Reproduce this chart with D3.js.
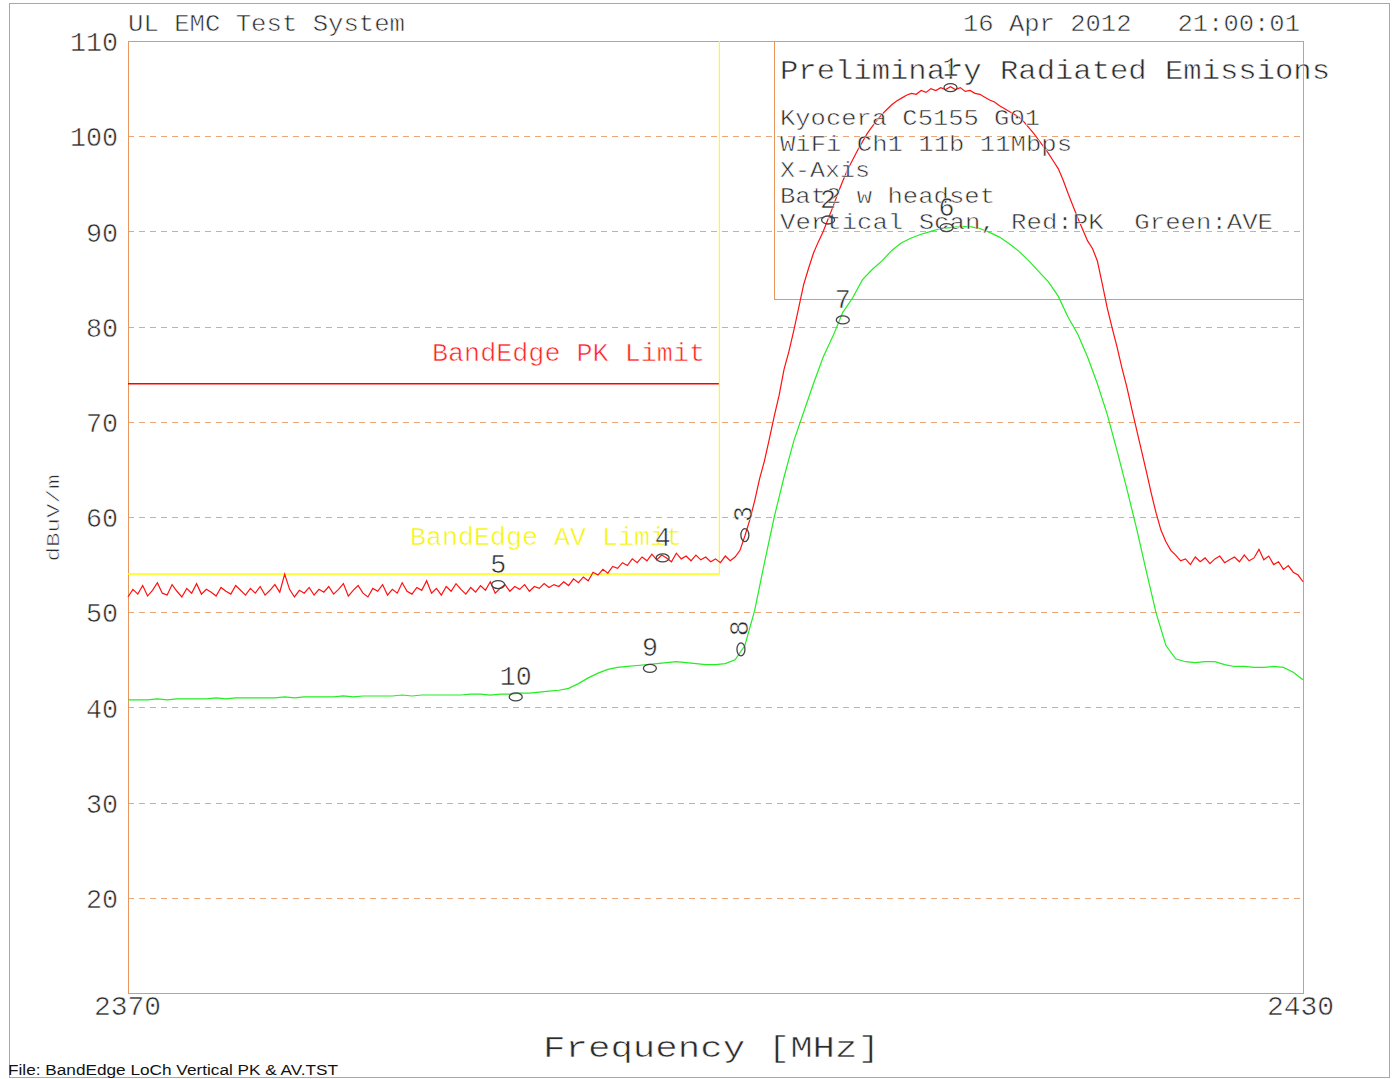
<!DOCTYPE html>
<html><head><meta charset="utf-8">
<script src="https://cdn.jsdelivr.net/npm/d3@7"></script>
<style>html,body{margin:0;padding:0;background:#fff;} svg{display:block;}
text.thin{stroke:#fff;stroke-width:0.55px;paint-order:fill;}
</style>
</head><body><svg id="chart" width="1393" height="1079"></svg>
<script>
// ---------------- data ----------------
const freqStart = 2370;
const freqEnd = 2430;
const pkStep = 0.25;   // MHz between peak-trace samples
const avStep = 0.5;    // MHz between average-trace samples

// Red: peak detector trace (dBuV/m), 2370.00 .. 2430.00 every 0.25 MHz
const pkLevels = [
  51.6, 52.4, 51.9, 52.8, 51.7, 52.3, 53.1, 52.0, 51.8, 52.9, 52.2, 51.6, 52.5, 52.0, 53.0, 51.9, 52.4, 52.1, 51.7, 52.6,
  52.2, 51.9, 52.8, 52.3, 51.8, 52.5, 52.0, 52.7, 51.8, 52.3, 52.9, 52.1, 54.0, 52.4, 51.6, 52.3, 52.0, 52.6, 51.8, 52.4,
  52.1, 52.7, 51.9, 52.4, 53.0, 51.7, 52.3, 52.8, 52.0, 51.6, 52.5, 52.2, 52.9, 51.8, 52.4, 52.0, 53.1, 52.2, 51.9, 52.6,
  52.3, 53.3, 52.0, 52.5, 51.8, 52.7, 52.2, 53.0, 52.4, 51.9, 52.6, 52.1, 52.8, 52.3, 53.2, 52.0, 52.5, 52.9, 52.2, 52.7,
  52.4, 52.9, 52.2, 52.7, 52.5, 53.0, 52.6, 52.9, 52.7, 53.2, 52.8, 53.5, 53.1, 53.7, 53.3, 54.2, 53.9, 54.5, 54.1, 54.8,
  54.6, 55.2, 54.9, 55.6, 55.2, 55.8, 55.4, 56.1, 55.5, 56.0, 55.7, 55.3, 56.2, 55.6, 55.9, 55.4, 56.0, 55.5, 55.8, 55.3,
  55.6, 55.2, 55.9, 55.4, 55.8, 56.5, 58.0, 59.7, 61.7, 64.0, 65.9, 68.2, 70.6, 72.8, 75.5, 77.4, 79.6, 82.0, 84.4, 86.1,
  87.7, 88.9, 90.0, 91.3, 92.6, 94.0, 95.3, 96.5, 97.5, 98.5, 99.4, 100.3, 101.0, 101.7, 102.3, 102.8, 103.3, 103.7, 104.0, 104.3,
  104.5, 104.4, 104.8, 104.6, 105.0, 104.8, 105.1, 104.9, 105.2, 104.9, 105.1, 104.7, 104.8, 104.5, 104.4, 104.1, 103.8, 103.6, 103.2, 102.9,
  102.6, 102.3, 102.0, 101.5, 100.9, 100.3, 99.6, 98.9, 98.2, 97.4, 96.6, 95.4, 94.0, 92.7, 91.4, 90.2, 89.0, 88.2, 86.9, 84.5,
  82.0, 79.9, 77.9, 75.7, 73.7, 71.4, 69.2, 67.0, 64.8, 62.5, 60.4, 58.6, 57.4, 56.5, 56.0, 55.4, 55.6, 55.0, 55.8, 55.3,
  55.7, 55.1, 55.6, 55.9, 55.2, 55.5, 55.8, 55.3, 56.0, 55.4, 55.7, 56.6, 55.5, 55.9, 55.0, 55.3, 54.5, 54.9, 54.2, 53.9,
  53.2
];

// Green: average detector trace (dBuV/m), 2370.0 .. 2430.0 every 0.5 MHz
const avLevels = [
  40.8, 40.8, 40.8, 40.9, 40.8, 40.9, 40.9, 40.9, 40.9, 41.0, 40.9, 41.0, 41.0, 41.0, 41.0, 41.0, 41.1, 41.0, 41.1, 41.1,
  41.1, 41.1, 41.2, 41.1, 41.2, 41.2, 41.2, 41.2, 41.3, 41.2, 41.3, 41.3, 41.3, 41.3, 41.3, 41.4, 41.4, 41.3, 41.4, 41.4,
  41.5, 41.5, 41.6, 41.7, 41.8, 42.0, 42.5, 43.1, 43.6, 44.0, 44.2, 44.3, 44.4, 44.5, 44.6, 44.7, 44.8, 44.7, 44.6, 44.5,
  44.5, 44.6, 45.0, 46.5, 50.2, 55.2, 60.0, 64.2, 68.0, 71.0, 74.0, 76.8, 79.0, 81.5, 83.0, 84.9, 86.0, 86.9, 88.0, 88.8,
  89.3, 89.7, 90.0, 90.3, 90.4, 90.5, 90.5, 90.3, 89.9, 89.4, 88.7, 87.9, 86.9, 85.8, 84.7, 83.2, 81.0, 79.2, 76.8, 74.0,
  70.8, 67.0, 63.0, 58.8, 54.3, 49.9, 46.5, 45.1, 44.8, 44.7, 44.8, 44.8, 44.5, 44.3, 44.3, 44.2, 44.2, 44.3, 44.2, 43.7,
  42.9
];

// Limits
const pkLimit = 74;
const avLimit = 54;
const limitStart = 2370;
const bandEdge = 2400.2;

// Markers
const markerLabels = ["1", "2", "3", "4", "5", "6", "7", "8", "9", "10"];
const markerFreqs  = [2412.0, 2405.75, 2401.5, 2397.3, 2388.9, 2411.8, 2406.5, 2401.3, 2396.65, 2389.8];
const markerLevels = [105.1, 91.2, 58.1, 55.7, 52.9, 90.4, 80.7, 46.1, 44.1, 41.1];
const markerRotated = [false, false, true, false, false, false, false, true, false, false];

// Axis ticks
const yTickValues = [110, 100, 90, 80, 70, 60, 50, 40, 30, 20];
const gridValues  = [100, 90, 80, 70, 60, 50, 40, 30, 20];
const xTickLabels = ["2370", "2430"];

// Texts
const headerLeft = "UL EMC Test System";
const headerRight = "16 Apr 2012   21:00:01";
const legendTitle = "Preliminary Radiated Emissions";
const legendLines = ["Kyocera C5155 G01", "WiFi Ch1 11b 11Mbps", "X-Axis", "Bat2 w headset", "Vertical Scan, Red:PK  Green:AVE"];
const xTitle = "Frequency [MHz]";
const yTitle = "dBuV/m";
const pkLimitLabel = "BandEdge PK Limit";
const avLimitLabel = "BandEdge AV Limit";
const fileLabel = "File: BandEdge LoCh Vertical PK & AV.TST";

// ---------------- drawing ----------------
const svg = d3.select("#chart");
const ORANGE = "#e8965c";
const GRID = "#eaa676";
const TEXT = "#2a2a2a";
const FONT = "'Liberation Mono', 'DejaVu Sans Mono', monospace";

const x = d3.scaleLinear().domain([freqStart, freqEnd]).range([128, 1303]);
const y = d3.scaleLinear().domain([10, 110]).range([993, 41]);

function txt(parent, s, px, py, size, len, opts = {}) {
  const t = parent.append("text")
    .attr("class", opts.cls === undefined ? "thin" : opts.cls)
    .attr("x", px).attr("y", py)
    .attr("font-family", opts.family || FONT)
    .attr("font-size", size)
    .attr("fill", opts.fill || TEXT)
    .attr("text-anchor", opts.anchor || "start")
    .style("white-space", "pre")
    .text(s);
  if (len) t.attr("textLength", len).attr("lengthAdjust", opts.adjust || "spacingAndGlyphs");
  if (opts.transform) t.attr("transform", opts.transform);
  return t;
}

// outer frame
svg.append("rect").attr("x", 9.5).attr("y", 3.5).attr("width", 1380).attr("height", 1074)
  .attr("fill", "none").attr("stroke", ORANGE).attr("stroke-width", 1);

// grid
svg.append("g").selectAll("line").data(gridValues).join("line")
  .attr("x1", x(freqStart)).attr("x2", x(freqEnd))
  .attr("y1", d => Math.round(y(d)) + 0.5).attr("y2", d => Math.round(y(d)) + 0.5)
  .attr("stroke", GRID).attr("stroke-width", 1.2).attr("stroke-dasharray", "6,5");

// y axis labels via d3 axis
const yAxis = d3.axisLeft(y).tickValues(yTickValues).tickSize(0).tickPadding(10).tickFormat(d3.format("d"));
const yg = svg.append("g").attr("transform", "translate(118,0)").call(yAxis);
yg.select(".domain").remove();
yg.selectAll("text")
  .attr("class", "thin")
  .attr("font-family", FONT).attr("font-size", 27).attr("fill", TEXT)
  .attr("x", 0).attr("dy", "0.36em")
  .attr("textLength", d => String(d).length * 16).attr("lengthAdjust", "spacingAndGlyphs");

// x axis labels via d3 axis
const xAxis = d3.axisBottom(x).tickValues([freqStart, freqEnd]).tickSize(0)
  .tickFormat((d, i) => xTickLabels[i]);
const xg = svg.append("g").attr("transform", "translate(0,993)").call(xAxis);
xg.select(".domain").remove();
xg.selectAll("text")
  .attr("class", "thin")
  .attr("font-family", FONT).attr("font-size", 27).attr("fill", TEXT)
  .attr("y", 22).attr("dy", "0")
  .attr("textLength", 67).attr("lengthAdjust", "spacingAndGlyphs")
  .attr("transform", (d, i) => i === 0 ? "translate(-1,0)" : "translate(-3,0)");

// plot border
svg.append("rect").attr("x", x(freqStart) + 0.5).attr("y", y(110) + 0.5)
  .attr("width", x(freqEnd) - x(freqStart)).attr("height", y(10) - y(110))
  .attr("fill", "none").attr("stroke", ORANGE).attr("stroke-width", 1);

// legend box
svg.append("rect").attr("x", 774.5).attr("y", y(110) + 0.5)
  .attr("width", x(freqEnd) - 774).attr("height", 258)
  .attr("fill", "none").attr("stroke", ORANGE).attr("stroke-width", 1);

// limits
svg.append("line").attr("x1", x(limitStart)).attr("x2", x(bandEdge))
  .attr("y1", y(pkLimit)).attr("y2", y(pkLimit)).attr("stroke", "#ff0000").attr("stroke-width", 1.5);
svg.append("line").attr("x1", x(limitStart)).attr("x2", x(bandEdge))
  .attr("y1", y(avLimit)).attr("y2", y(avLimit)).attr("stroke", "#ffff00").attr("stroke-width", 1.5);
svg.append("line").attr("x1", x(bandEdge)).attr("x2", x(bandEdge))
  .attr("y1", y(110)).attr("y2", y(avLimit)).attr("stroke", "#ffff00").attr("stroke-width", 1.2);

// traces
const pkLine = d3.line().x((d, i) => x(freqStart + i * pkStep)).y(d => y(d));
const avLine = d3.line().x((d, i) => x(freqStart + i * avStep)).y(d => y(d));
svg.append("path").datum(avLevels).attr("d", avLine)
  .attr("fill", "none").attr("stroke", "#22ee22").attr("stroke-width", 1.2);
svg.append("path").datum(pkLevels).attr("d", pkLine)
  .attr("fill", "none").attr("stroke", "#ff1010").attr("stroke-width", 1.2);

// limit labels
txt(svg, pkLimitLabel, 432, 361, 25, 273, {fill: "#ff2020"});
txt(svg, avLimitLabel, 410, 545, 25, 272, {fill: "#f4f400"});

// header
txt(svg, headerLeft, 128, 31, 24, 277);
txt(svg, headerRight, 963, 31, 24, 337);

// legend text
txt(svg, legendTitle, 780, 79, 28, 550);
const legendWidths = [260, 292, 90, 215, 493];
legendLines.forEach((s, i) => txt(svg, s, 780, 125 + i * 26, 22, legendWidths[i]));

// markers
const mk = svg.append("g");
markerLabels.forEach((lab, i) => {
  const mx = x(markerFreqs[i]), my = y(markerLevels[i]);
  const g = mk.append("g").attr("transform", `translate(${mx},${my})`);
  if (markerRotated[i]) {
    g.append("ellipse").attr("cx", 0).attr("cy", 0).attr("rx", 4).attr("ry", 6.5)
      .attr("fill", "none").attr("stroke", "#444").attr("stroke-width", 1.3);
    txt(g, lab, 0, 0, 27, 16, {anchor: "middle", transform: "translate(0,-21) rotate(-90)"})
      .attr("dominant-baseline", "central");
  } else {
    g.append("ellipse").attr("cx", 0).attr("cy", 0).attr("rx", 6.5).attr("ry", 4)
      .attr("fill", "none").attr("stroke", "#444").attr("stroke-width", 1.3);
    txt(g, lab, 0, -12, 27, lab.length * 16, {anchor: "middle"});
  }
});

// axis titles
txt(svg, xTitle, 543, 1057, 29, 337);
txt(svg, yTitle, 0, 0, 19, 87, {anchor: "middle", transform: "translate(59,518) rotate(-90)"});

// file label
txt(svg, fileLabel, 8, 1075, 14, 330, {family: "'Liberation Sans Narrow', 'Liberation Sans', sans-serif", fill: "#111", cls: ""});
</script>
</body></html>
